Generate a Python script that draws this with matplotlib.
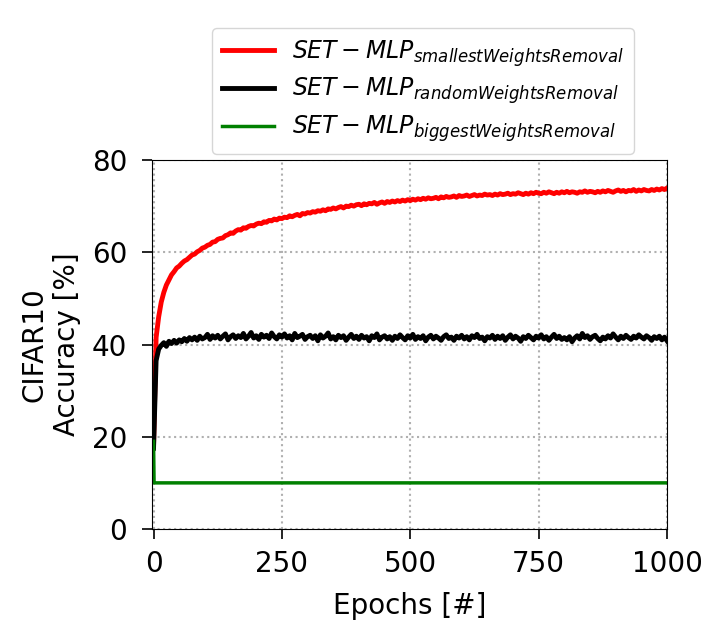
import matplotlib as mpl
mpl.use("agg")
import matplotlib.pyplot as plt

# epochs sampled every 5 for the noisy curves
epochs = list(range(0, 1001, 5))

acc_smallest = [
    18.0, 41.5, 46.0, 49.2, 51.3, 52.9, 54.0, 55.1, 55.8, 56.6,
    57.0, 57.6, 58.1, 58.4, 58.9, 59.4, 59.6, 60.1, 60.4, 60.9,
    61.1, 61.5, 61.7, 62.2, 62.3, 62.8, 63.0, 63.1, 63.6, 63.8,
    64.2, 64.1, 64.6, 64.9, 64.8, 65.3, 65.2, 65.6, 65.8, 65.7,
    66.1, 66.3, 66.2, 66.6, 66.5, 66.9, 66.8, 67.2, 67.0, 67.4,
    67.3, 67.6, 67.5, 67.9, 67.7, 68.0, 68.2, 67.9, 68.4, 68.3,
    68.6, 68.5, 68.8, 68.7, 69.0, 68.9, 69.2, 69.0, 69.4, 69.3,
    69.6, 69.4, 69.7, 69.9, 69.6, 70.0, 69.9, 70.2, 70.0, 70.3,
    70.4, 70.1, 70.5, 70.3, 70.6, 70.5, 70.8, 70.4, 70.7, 70.9,
    70.6, 71.0, 70.8, 71.1, 70.9, 71.2, 71.0, 71.3, 71.1, 71.4,
    71.2, 71.5, 71.3, 71.6, 71.4, 71.7, 71.5, 71.8, 71.6, 71.7,
    71.9, 71.6, 72.0, 71.8, 72.1, 71.9, 72.0, 72.2, 71.9, 72.3,
    72.1, 72.2, 72.4, 72.1, 72.3, 72.5, 72.2, 72.4, 72.3, 72.6,
    72.4, 72.5, 72.3, 72.6, 72.4, 72.7, 72.5, 72.6, 72.8, 72.5,
    72.7, 72.6, 72.9, 72.7, 72.5, 72.8, 72.6, 72.9, 72.7, 73.0,
    72.8, 72.7, 73.0, 72.8, 73.1, 72.9, 72.7, 73.0, 72.8, 73.1,
    72.9, 73.2, 72.9, 73.1, 73.0, 72.8, 73.1, 73.0, 73.3, 73.0,
    73.2, 73.1, 72.9, 73.2, 73.0, 73.3, 73.1, 73.4, 73.2, 73.0,
    73.3, 73.5, 73.2, 73.4, 73.1, 73.4, 73.3, 73.6, 73.2, 73.5,
    73.3, 73.6, 73.4, 73.3, 73.6, 73.4, 73.7, 73.5, 73.8, 73.6,
    73.9,
]

acc_random = [
    17.5, 36.5, 39.0, 39.8, 40.4, 39.6, 40.7, 40.2, 40.9, 40.3,
    41.0, 40.6, 41.3, 40.7, 41.5, 41.0, 41.6, 40.9, 41.8, 41.2,
    41.5, 42.2, 41.1, 41.9, 41.4, 42.0, 41.2, 41.8, 42.3, 41.0,
    41.7, 42.1, 41.3, 41.9, 41.5, 42.4, 41.2, 41.8, 42.6, 41.4,
    41.9, 41.1, 42.2, 41.6, 42.0, 41.3, 42.5, 41.7, 41.2, 42.1,
    41.6, 42.3, 41.4, 41.9, 41.0, 42.4, 41.5, 41.8, 42.2, 41.1,
    41.7, 42.0, 41.3, 41.9, 40.8, 42.1, 41.4, 41.8, 42.5, 41.2,
    41.7, 41.0, 42.0, 41.5, 41.9, 40.9, 41.6, 42.2, 41.3, 41.8,
    41.1, 42.0, 41.4, 41.7, 40.8, 41.9, 41.5, 42.3, 41.0, 41.6,
    41.9, 41.2, 41.7, 40.9, 41.8, 41.3, 42.1, 41.5, 41.0, 41.9,
    41.4, 42.2, 41.1, 41.7, 41.3, 41.9, 40.8, 41.6, 42.0, 41.2,
    41.8, 41.4, 40.9, 41.7, 42.1, 41.3, 41.6, 40.9, 41.8, 41.4,
    42.0, 41.2, 41.7, 41.0, 41.9, 41.5, 42.2, 41.3, 41.6, 40.8,
    41.7, 41.4, 42.0, 41.1, 41.8, 41.3, 41.9, 40.9, 41.6, 42.1,
    41.2, 41.8, 41.4, 40.7, 41.7, 41.3, 42.0, 41.5, 41.0, 41.8,
    41.4, 42.1, 41.2, 41.7, 40.9, 41.6, 42.2, 41.3, 41.8, 41.1,
    41.5, 41.0, 41.7, 40.6, 41.4, 41.9, 41.2, 42.4, 41.5, 41.9,
    41.1, 41.7, 42.0, 41.3, 40.8, 41.6, 41.2, 41.9, 41.4, 42.3,
    41.6, 41.0, 41.8, 41.3, 42.0, 41.5, 41.1, 41.8, 41.4, 42.1,
    41.6, 41.2, 41.9, 41.5, 40.9, 41.7, 41.3, 41.8, 41.0, 41.6,
    40.8,
]

# biggest-weights removal collapses to chance level right away
epochs_biggest = [0, 1, 1000]
acc_biggest = [19.0, 10.0, 10.0]

labels = [r'$SET-MLP_{smallestWeightsRemoval}$',
          r'$SET-MLP_{randomWeightsRemoval}$',
          r'$SET-MLP_{biggestWeightsRemoval}$']

plt.rcParams['font.size'] = 20

fig = plt.figure(figsize=(7.06, 6.25), dpi=100)
ax = fig.add_axes([0.2153, 0.1536, 0.7295, 0.5904])

ax.plot(epochs, acc_smallest, color='red', lw=3.5, label=labels[0])
ax.plot(epochs, acc_random, color='black', lw=3.5, label=labels[1])
ax.plot(epochs_biggest, acc_biggest, color='green', lw=2.5, label=labels[2])

ax.set_xlim(-3, 1000)
ax.set_ylim(0, 80)
ax.set_xticks([0, 250, 500, 750, 1000])
ax.set_yticks([0, 20, 40, 60, 80])
ax.grid(True, linestyle=':', color='#b0b0b0', lw=1.5)
ax.tick_params(length=7, width=1.2, pad=8)
ax.tick_params(axis='y', pad=11)
ax.set_xlabel('Epochs [#]', labelpad=10)
ax.set_ylabel('CIFAR10\nAccuracy [%]', labelpad=8)

fig.legend(loc='upper center', bbox_to_anchor=(423 / 706, 0.962), fontsize=17,
           handlelength=2.2, labelspacing=0.3, borderaxespad=0.2)

plt.savefig('out.png', dpi=100)
